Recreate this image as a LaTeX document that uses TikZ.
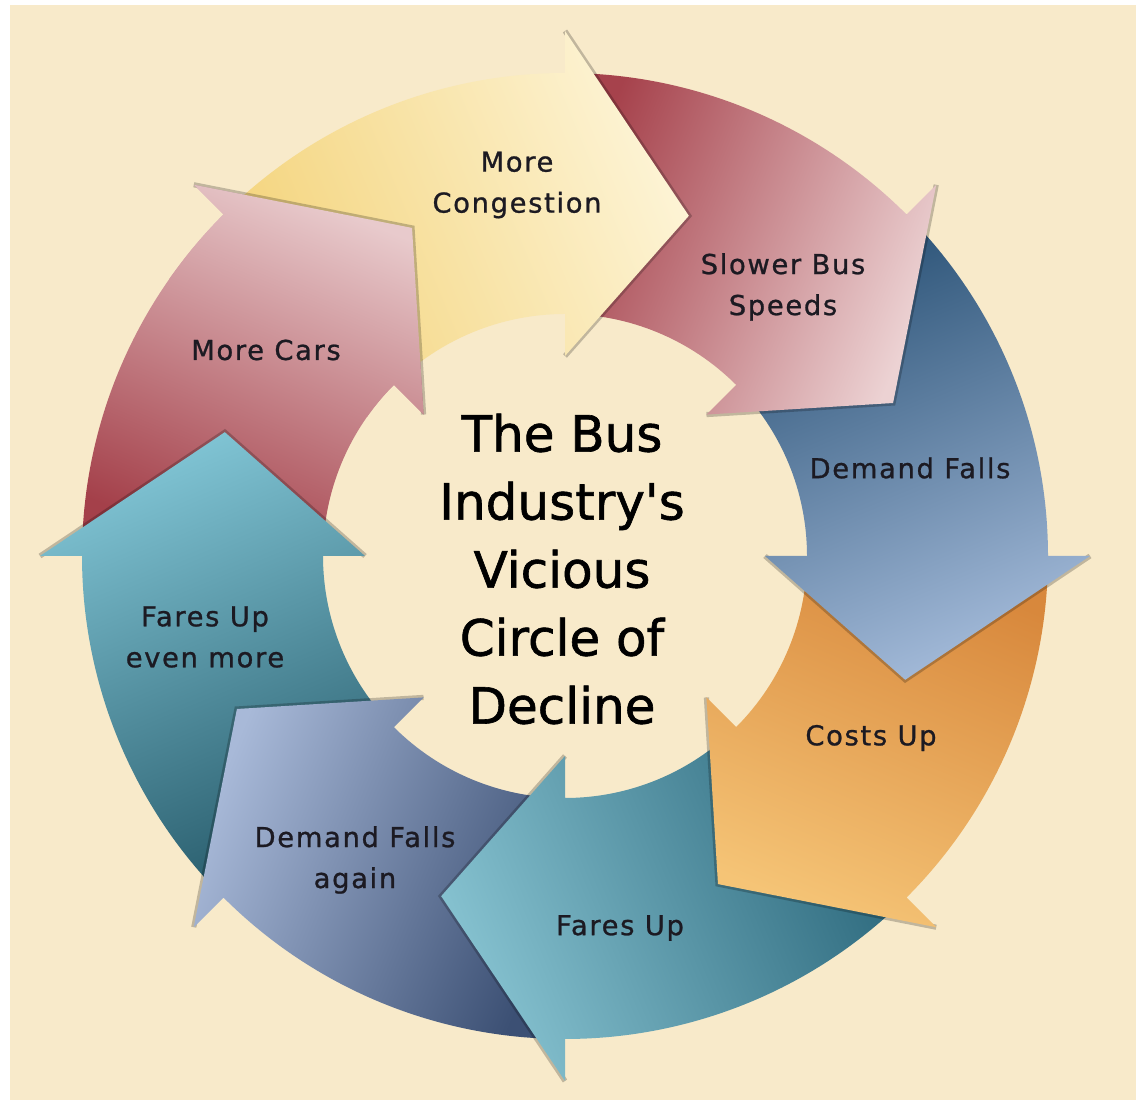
\documentclass[tikz,border=0pt]{standalone}
\usepackage{fontspec}
\setmainfont{DejaVu Sans}
\newfontfamily\lblfont[LetterSpace=6,FakeBold=0.9]{DejaVu Sans}
\newfontfamily\titlefont[FakeBold=1.2]{DejaVu Sans}
\usepackage{tikz}

\definecolor{bgbeige}{RGB}{248,234,202}
\definecolor{txtdark}{RGB}{28,26,34}
\definecolor{congD}{RGB}{244,212,124}
\definecolor{congL}{RGB}{253,244,214}
\definecolor{slowD}{RGB}{166,66,76}
\definecolor{slowL}{RGB}{236,210,211}
\definecolor{demD}{RGB}{42,82,118}
\definecolor{demL}{RGB}{162,185,216}
\definecolor{costD}{RGB}{216,136,60}
\definecolor{costL}{RGB}{245,196,118}
\definecolor{fareD}{RGB}{44,104,124}
\definecolor{fareL}{RGB}{134,194,208}
\definecolor{againD}{RGB}{60,80,116}
\definecolor{againL}{RGB}{168,185,216}
\definecolor{moreD}{RGB}{40,92,108}
\definecolor{moreL}{RGB}{128,196,212}
\definecolor{carsD}{RGB}{164,64,74}
\definecolor{carsL}{RGB}{232,202,204}

\begin{document}
\begin{tikzpicture}[line join=miter,
  lbl/.style={align=center,inner sep=0pt,text=txtdark,font=\lblfont\fontsize{13.7bp}{20.5bp}\selectfont},
  headrim/.style={draw=black,draw opacity=0.22,line width=2.6bp},]
%%
\useasboundingbox (0bp,0bp) rectangle (568bp,550.5bp);
\fill [white] (0bp,0bp) rectangle (568bp,550.5bp);
\fill [bgbeige] (5bp,0.5bp) rectangle (568bp,548bp);
%
\begin{scope}[shift={(282.5bp,272.5bp)}]
  % more cars
  \shade [top color=carsL,bottom color=carsD,shading angle=-22.5] (180:241.5bp) arc[start angle=180,end angle=135,radius=241.5bp] -- (135:262.5bp) -- (115:181bp) -- (135:100bp) -- (135:121bp) arc[start angle=135,end angle=180,radius=121bp] -- cycle;
  % fares up even more
  \draw [headrim] (180:262.5bp) -- (160:181bp) -- (180:100bp);
  \shade [top color=moreL,bottom color=moreD,shading angle=22.5] (225:241.5bp) arc[start angle=225,end angle=180,radius=241.5bp] -- (180:262.5bp) -- (160:181bp) -- (180:100bp) -- (180:121bp) arc[start angle=180,end angle=225,radius=121bp] -- cycle;
  % demand falls again
  \draw [headrim] (225:262.5bp) -- (205:181bp) -- (225:100bp);
  \shade [top color=againL,bottom color=againD,shading angle=67.5] (270:241.5bp) arc[start angle=270,end angle=225,radius=241.5bp] -- (225:262.5bp) -- (205:181bp) -- (225:100bp) -- (225:121bp) arc[start angle=225,end angle=270,radius=121bp] -- cycle;
  % fares up
  \draw [headrim] (270:262.5bp) -- (250:181bp) -- (270:100bp);
  \shade [top color=fareL,bottom color=fareD,shading angle=112.5] (315:241.5bp) arc[start angle=315,end angle=270,radius=241.5bp] -- (270:262.5bp) -- (250:181bp) -- (270:100bp) -- (270:121bp) arc[start angle=270,end angle=315,radius=121bp] -- cycle;
  % costs up
  \draw [headrim] (315:262.5bp) -- (295:181bp) -- (315:100bp);
  \shade [top color=costL,bottom color=costD,shading angle=157.5] (360:241.5bp) arc[start angle=360,end angle=315,radius=241.5bp] -- (315:262.5bp) -- (295:181bp) -- (315:100bp) -- (315:121bp) arc[start angle=315,end angle=360,radius=121bp] -- cycle;
  % demand falls
  \draw [headrim] (0:262.5bp) -- (-20:181bp) -- (0:100bp);
  \shade [top color=demL,bottom color=demD,shading angle=-157.5] (45:241.5bp) arc[start angle=45,end angle=0,radius=241.5bp] -- (0:262.5bp) -- (-20:181bp) -- (0:100bp) -- (0:121bp) arc[start angle=0,end angle=45,radius=121bp] -- cycle;
  % slower bus speeds
  \draw [headrim] (45:262.5bp) -- (25:181bp) -- (45:100bp);
  \shade [top color=slowL,bottom color=slowD,shading angle=-112.5] (90:241.5bp) arc[start angle=90,end angle=45,radius=241.5bp] -- (45:262.5bp) -- (25:181bp) -- (45:100bp) -- (45:121bp) arc[start angle=45,end angle=90,radius=121bp] -- cycle;
  % more congestion
  \draw [headrim] (90:262.5bp) -- (70:181bp) -- (90:100bp);
  \shade [top color=congL,bottom color=congD,shading angle=-67.5] (135:241.5bp) arc[start angle=135,end angle=90,radius=241.5bp] -- (90:262.5bp) -- (70:181bp) -- (90:100bp) -- (90:121bp) arc[start angle=90,end angle=135,radius=121bp] -- cycle;
  % head of more cars again, on top of more congestion
  \draw [headrim] (135:262.5bp) -- (115:181bp) -- (135:100bp);
  \begin{scope}
    \clip (135:262.5bp) -- (115:181bp) -- (135:100bp) -- (145:100bp) -- (145:262.5bp) -- cycle;
    \shade [top color=carsL,bottom color=carsD,shading angle=-22.5] (180:241.5bp) arc[start angle=180,end angle=135,radius=241.5bp] -- (135:262.5bp) -- (115:181bp) -- (135:100bp) -- (135:121bp) arc[start angle=135,end angle=180,radius=121bp] -- cycle;
  \end{scope}
\end{scope}
%
\node (cong) at (258.5bp,458bp) [lbl] {More\\Congestion};
\node (slow) at (391.5bp,407bp) [lbl] {Slower Bus\\Speeds};
\node (dem) at (455bp,316.5bp) [lbl] {Demand Falls};
\node (cost) at (435.5bp,181.5bp) [lbl] {Costs Up};
\node (fare) at (310bp,86.5bp) [lbl] {Fares Up};
\node (again) at (177.5bp,120.5bp) [lbl] {Demand Falls\\again};
\node (evenmore) at (102.5bp,232bp) [lbl] {Fares Up\\even more};
\node (cars) at (133bp,375.5bp) [lbl] {More Cars};
\node (title) at (281bp,266bp) [align=center,inner sep=0pt,text=black,font=\titlefont\fontsize{25bp}{34bp}\selectfont] {The Bus\\Industry\textquotesingle s\\Vicious\\Circle of\\Decline};
%
\end{tikzpicture}
\end{document}
